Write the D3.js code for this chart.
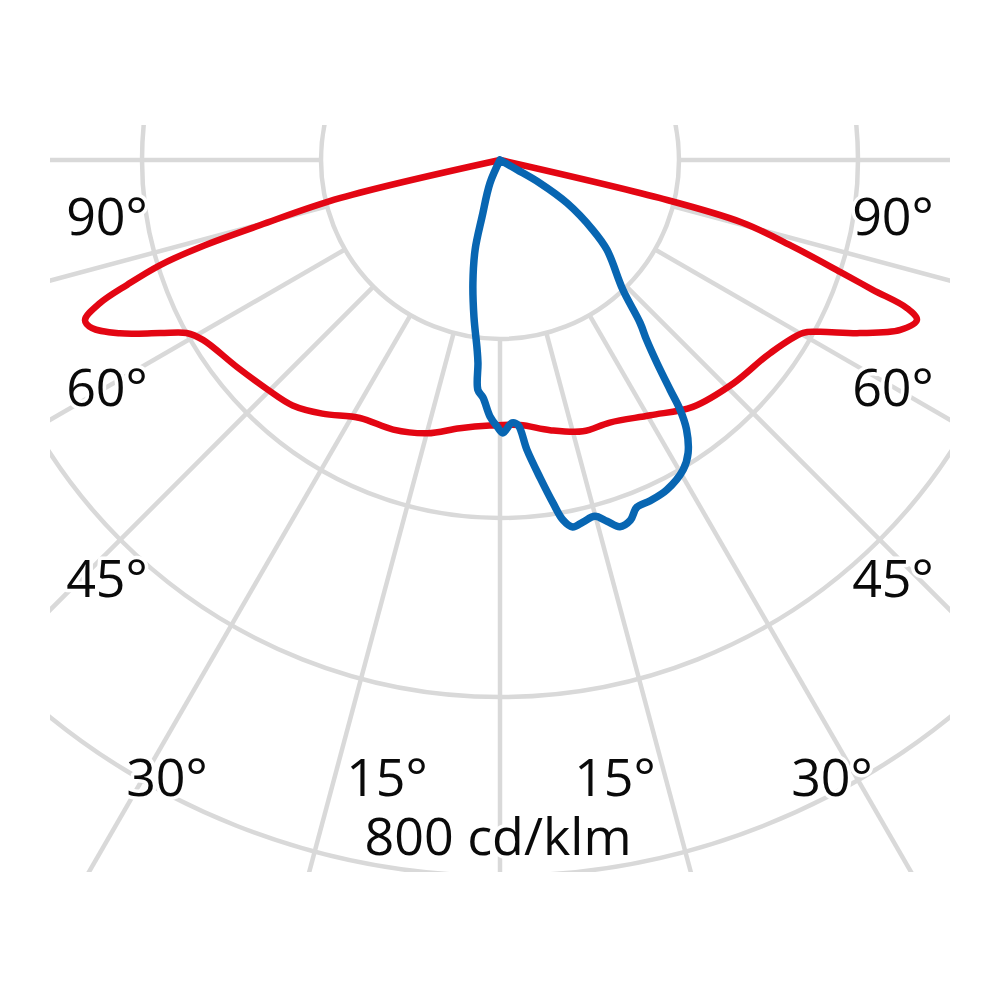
<!DOCTYPE html>
<html>
<head>
<meta charset="utf-8">
<script src="https://cdn.jsdelivr.net/npm/d3@7"></script>
<style>
  html, body { margin: 0; padding: 0; background: #ffffff; }
  svg { display: block; }
</style>
</head>
<body>
<svg id="chart" width="1000" height="1000"></svg>
<script>
// ---- data (angles in degrees from nadir, negative = left; intensity in cd/klm) ----
const ringValues = [200, 400, 600, 800];
const spokeAngles = [-90, -75, -60, -45, -30, -15, 0, 15, 30, 45, 60, 75, 90];

const redAngles = [-90, -76.6, -74.8, -73.8, -72.8, -71.5, -70.3, -68.9, -67.6, -65.5, -63.0, -61.1,
  -58.8, -51.8, -45.4, -40.2, -35.0, -28.5, -21.6, -14.9, -8.5, -2.2, 4.3, 10.5, 17.0, 22.7, 30.5,
  38.0, 46.3, 54.4, 60.3, 61.7, 64.3, 67.0, 69.0, 70.0, 70.8, 71.8, 73.5, 75.5, 76.6, 90];
const redValues = [0, 183, 278, 349, 398, 439, 475, 497, 493, 467, 426, 400,
  388, 374, 365, 359, 346, 328, 324, 316, 303, 297, 297, 307, 317, 318, 331,
  350, 361, 371, 390, 405, 446, 486, 499, 484, 441, 400, 342, 280, 183, 0];

const blueAngles = [-25, -23.5, -17.5, -15.5, -12.4, -9.4, -6.9, -6.2, -5.5, -4.1, -2.2, -0.6, 0.6,
  2.6, 3.9, 5.3, 7.2, 8.8, 9.9, 11.2, 12.9, 14.9, 16.5, 18.1, 19.9, 21.5, 23.8, 26.8, 30.6, 32.7,
  34.7, 35.8, 36.5, 37.7, 39.2, 40.7, 43.4, 50.0, 53.0, 57.3, 60.0, 60.5, 62];
const blueValues = [0, 28, 67, 104, 141, 178, 213, 228, 258, 266, 287, 298, 305,
  294, 297, 325, 358, 388, 408, 418, 415, 412, 421, 431, 428, 417, 416, 413, 402, 389,
  366, 344, 320, 287, 259, 240, 200, 156, 130, 89, 51, 22, 0];

const labelTexts = ["90°", "60°", "45°", "30°", "15°", "800 cd/klm", "15°", "30°", "45°", "60°", "90°"];

// ---- layout ----
const cx = 500, cy = 160;
const labelPos = [[107, 235], [107, 406], [107, 597], [167, 796], [387, 796], [498, 855],
  [615, 796], [832, 796], [893, 597], [893, 406], [893, 235]];

const svg = d3.select("#chart");
const r = d3.scaleLinear().domain([0, 800]).range([0, 716]);
const toRad = d => Math.PI - d * Math.PI / 180;

svg.append("defs").append("clipPath").attr("id", "clip")
  .append("rect").attr("x", 50).attr("y", 125).attr("width", 900).attr("height", 747);

const g = svg.append("g").attr("clip-path", "url(#clip)");
const plot = g.append("g").attr("transform", `translate(${cx},${cy})`);

const gridColor = "#d9d9d9";
// rings
plot.selectAll("circle.ring").data(ringValues).join("circle")
  .attr("class", "ring")
  .attr("r", d => r(d))
  .attr("fill", "none")
  .attr("stroke", gridColor)
  .attr("stroke-width", 4.5);

// spokes
plot.selectAll("line.spoke").data(spokeAngles).join("line")
  .attr("class", "spoke")
  .attr("x1", d => r(ringValues[0]) * Math.sin(d * Math.PI / 180))
  .attr("y1", d => r(ringValues[0]) * Math.cos(d * Math.PI / 180))
  .attr("x2", d => r(1200) * Math.sin(d * Math.PI / 180))
  .attr("y2", d => r(1200) * Math.cos(d * Math.PI / 180))
  .attr("stroke", gridColor)
  .attr("stroke-width", 4.5);

const line = d3.lineRadial()
  .angle(d => toRad(d[0]))
  .radius(d => r(d[1]))
  .curve(d3.curveCatmullRom.alpha(0.5));

const redData = redAngles.map((a, i) => [a, redValues[i]]);
const blueData = blueAngles.map((a, i) => [a, blueValues[i]]);

plot.append("path").datum(redData)
  .attr("d", line)
  .attr("fill", "none")
  .attr("stroke", "#e30613")
  .attr("stroke-width", 6.5)
  .attr("stroke-linejoin", "round")
  .attr("stroke-linecap", "round");

plot.append("path").datum(blueData)
  .attr("d", line)
  .attr("fill", "none")
  .attr("stroke", "#0866b2")
  .attr("stroke-width", 7.5)
  .attr("stroke-linejoin", "round")
  .attr("stroke-linecap", "round");

// labels
svg.append("g").selectAll("text").data(labelTexts).join("text")
  .attr("x", (d, i) => labelPos[i][0])
  .attr("y", (d, i) => labelPos[i][1])
  .attr("text-anchor", "middle")
  .attr("font-family", "'Open Sans', 'Noto Sans', sans-serif")
  .attr("font-size", 52)
  .attr("fill", "#0a0a0a")
  .attr("stroke", "#ffffff")
  .attr("stroke-width", 7)
  .attr("stroke-linejoin", "round")
  .attr("paint-order", "stroke")
  .text(d => d);
</script>
</body>
</html>
